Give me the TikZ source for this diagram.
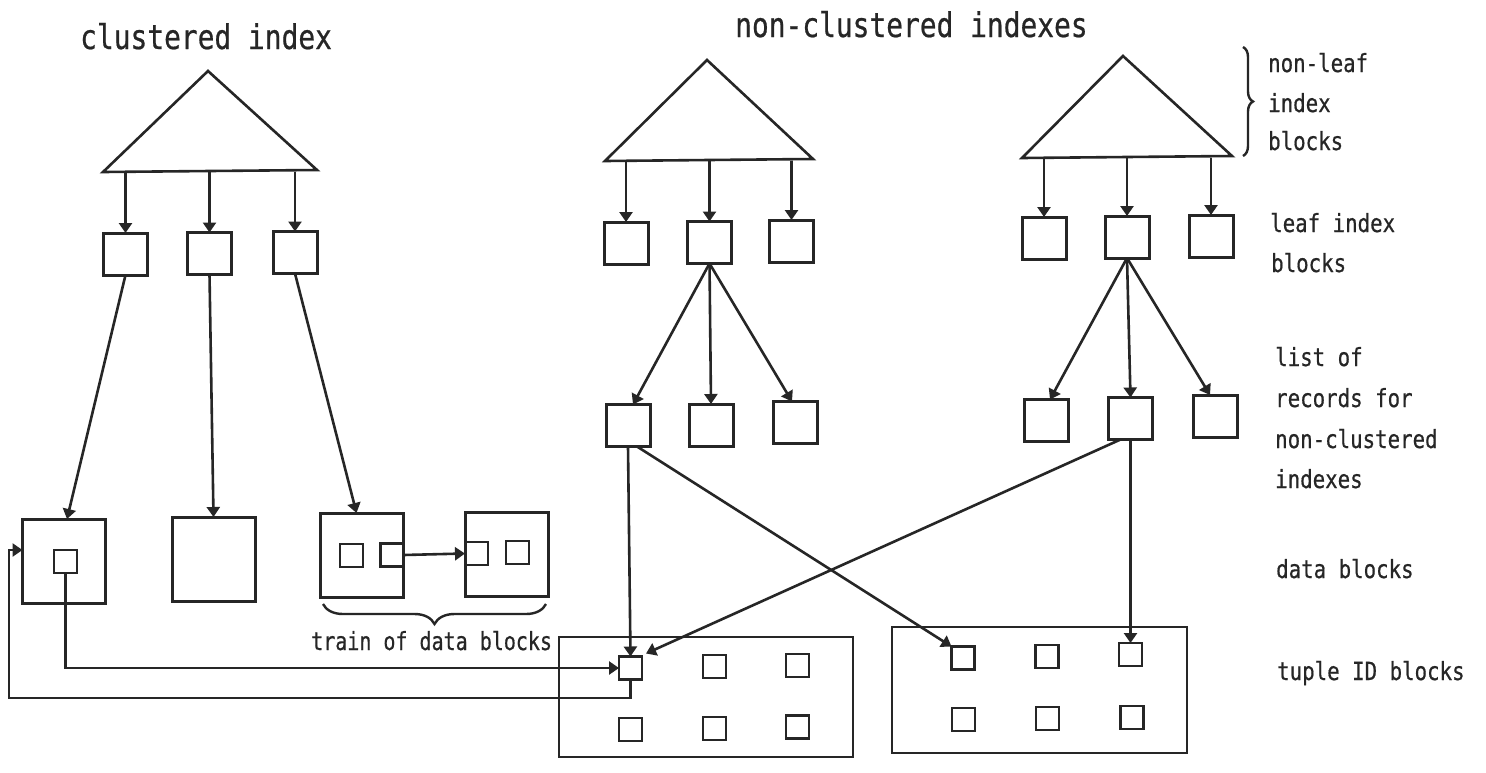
\documentclass[tikz,border=0pt]{standalone}
\usepackage{fontspec}
\newfontfamily\headfont[FakeStretch=0.82,FakeBold=0.6]{DejaVu Sans Mono}
\newfontfamily\lblfont[FakeStretch=0.83,FakeBold=0.6]{DejaVu Sans Mono}
\newfontfamily\trainfont[FakeStretch=0.80,FakeBold=0.6]{DejaVu Sans Mono}
\usetikzlibrary{arrows.meta,decorations.pathreplacing,calc}
\definecolor{ink}{HTML}{262626}

\begin{document}
\begin{tikzpicture}[x=1pt,y=-1pt,
  blk/.style={draw=ink, line width=3pt, fill=white, minimum width=44pt,
    minimum height=42pt, inner sep=0pt, outer sep=0pt},
  datablk/.style={blk, minimum width=83pt, minimum height=84pt},
  slot/.style={draw=ink, line width=2.6pt, minimum size=23pt, inner sep=0pt, outer sep=0pt},
  tidbox/.style={draw=ink, line width=2.8pt, inner sep=0pt, outer sep=0pt},
  ptr/.style={draw=ink, line width=2.6pt, -{Triangle[length=10pt,width=13pt]}},
  tri/.style={draw=ink, line width=2.6pt, line join=miter},
  heading/.style={font=\headfont\fontsize{34}{40}\selectfont, text=ink, inner sep=0pt, anchor=base west},
  lbl/.style={font=\lblfont\fontsize{25}{30}\selectfont, text=ink, inner sep=0pt, anchor=base west},
  brc/.style={draw=ink, line width=2.4pt, decorate, decoration={brace, amplitude=#1}},
  brc/.default=10,
]
\useasboundingbox (0,0) rectangle (1486,772);
\fill[white] (0,0) rectangle (1486,772);

% headings
\node[heading] (hc) at (80,49) {clustered index};
\node[heading] (hn) at (735,37) {non-clustered indexes};

% non-leaf parts of the three trees
\coordinate (cA) at (208,71);  \coordinate (cL) at (103,172); \coordinate (cR) at (317,170);
\coordinate (mA) at (707,60);  \coordinate (mL) at (605,161); \coordinate (mR) at (813,159);
\coordinate (rA) at (1123,56); \coordinate (rL) at (1022,158); \coordinate (rR) at (1232,156);
\draw[tri] (cL) -- (cA) -- (cR) -- cycle;
\draw[tri] (mL) -- (mA) -- (mR) -- cycle;
\draw[tri] (rL) -- (rA) -- (rR) -- cycle;

% leaf index blocks
\node[blk] (cl1) at (125.5,254) {};
\node[blk] (cl2) at (209.5,253.5) {};
\node[blk] (cl3) at (295,252.5) {};
\node[blk] (ml1) at (626,243) {};
\node[blk] (ml2) at (709.5,242.5) {};
\node[blk] (ml3) at (791.5,241) {};
\node[blk] (rl1) at (1044,238) {};
\node[blk] (rl2) at (1127,237) {};
\node[blk] (rl3) at (1211,236) {};

% record lists
\node[blk] (mr1) at (628,425.5) {};
\node[blk] (mr2) at (711,425) {};
\node[blk] (mr3) at (795,422.5) {};
\node[blk] (rr1) at (1046,420.5) {};
\node[blk] (rr2) at (1130.5,418.5) {};
\node[blk] (rr3) at (1215,416) {};

% data blocks
\node[datablk] (db1) at (64,561) {};
\node[datablk] (db2) at (213.5,559) {};
\node[datablk] (db3) at (361.5,555) {};
\node[datablk] (db4) at (506.5,554) {};
\node[slot] (s1) at (65.5,561.5) {};
\node[slot] (sa) at (351.5,555.5) {};
\node[slot] (sb) at (392,555) {};
\node[slot] (sc) at (476.5,553.5) {};
\node[slot] (sd) at (517.5,552.5) {};

% tuple ID blocks
\node[tidbox, minimum width=294pt, minimum height=120pt] (t1) at (706,697) {};
\node[tidbox, minimum width=295pt, minimum height=126pt] (t2) at (1039.5,690) {};
\node[slot] (ta1) at (630.5,668) {};
\node[slot] (ta2) at (714.5,666.5) {};
\node[slot] (ta3) at (797.5,665.5) {};
\node[slot] (ta4) at (630.5,729.5) {};
\node[slot] (ta5) at (714.5,728.5) {};
\node[slot] (ta6) at (797.5,727) {};
\node[slot] (tb1) at (963,658) {};
\node[slot] (tb2) at (1047,656.5) {};
\node[slot] (tb3) at (1130.5,654.5) {};
\node[slot] (tb4) at (963.5,719.5) {};
\node[slot] (tb5) at (1047.5,718.5) {};
\node[slot] (tb6) at (1132,717.5) {};

% tree roots to leaves
\foreach \b in {cl1,cl2,cl3} \draw[ptr] (\b.north |- cL) -- (\b.north);
\foreach \b in {ml1,ml2,ml3} \draw[ptr] (\b.north |- mL) -- (\b.north);
\foreach \b in {rl1,rl2,rl3} \draw[ptr] (\b.north |- rL) -- (\b.north);

% clustered leaves to data blocks
\draw[ptr] (cl1.south) -- ($(db1.north)+(3,0)$);
\draw[ptr] (cl2.south) -- (db2.north);
\draw[ptr] (cl3.south) -- ($(db3.north)+(-5,0)$);
\draw[ptr] (sb.east) -- (sc.west);

% leaves to record lists
\draw[ptr] (ml2.south) -- ($(mr1.north)+(5,0)$);
\draw[ptr] (ml2.south) -- (mr2.north);
\draw[ptr] (ml2.south) -- ($(mr3.north)+(-3,0)$);
\draw[ptr] (rl2.south) -- ($(rr1.north)+(4,0)$);
\draw[ptr] (rl2.south) -- (rr2.north);
\draw[ptr] (rl2.south) -- ($(rr3.north)+(-5,0)$);

% record lists to tuple IDs
\draw[ptr] (mr1.south) -- (ta1.north);
\draw[ptr] ($(mr1.south)+(9,0)$) -- (tb1.north west);
\draw[ptr] (rr2.south) -- (tb3.north);
\draw[ptr] ($(rr2.south)+(-10,0)$) -- ($(ta1.north east)+(4,-3)$);

% tuple ID links with the clustered data
\draw[ptr] (s1.south) |- (ta1.west);
\coordinate (lowrun) at (9,698);
\draw[ptr] (ta1.south) |- (lowrun) |- (db1.west |- s1.north);

% braces
\draw[brc=20] ($(db4.south east)+(-2,8)$) -- ($(db3.south west)+(3,7)$);
\draw[brc=10] (1243,47) -- (1243,156);

% labels
\node[lbl, font=\trainfont\fontsize{25}{30}\selectfont] (ltrain) at (311,650) {train of data blocks};
\node[lbl] (n1) at (1268,72) {non-leaf};
\node[lbl] (n2) at (1268,112) {index};
\node[lbl] (n3) at (1268,150) {blocks};
\node[lbl] (f1) at (1270,232) {leaf index};
\node[lbl] (f2) at (1271,272) {blocks};
\node[lbl] (r1) at (1275,366) {list of};
\node[lbl] (r2) at (1275,407) {records for};
\node[lbl] (r3) at (1275,448) {non-clustered};
\node[lbl] (r4) at (1275,488) {indexes};
\node[lbl] (d1) at (1276,578) {data blocks};
\node[lbl] (u1) at (1277,680) {tuple ID blocks};
\end{tikzpicture}
\end{document}
